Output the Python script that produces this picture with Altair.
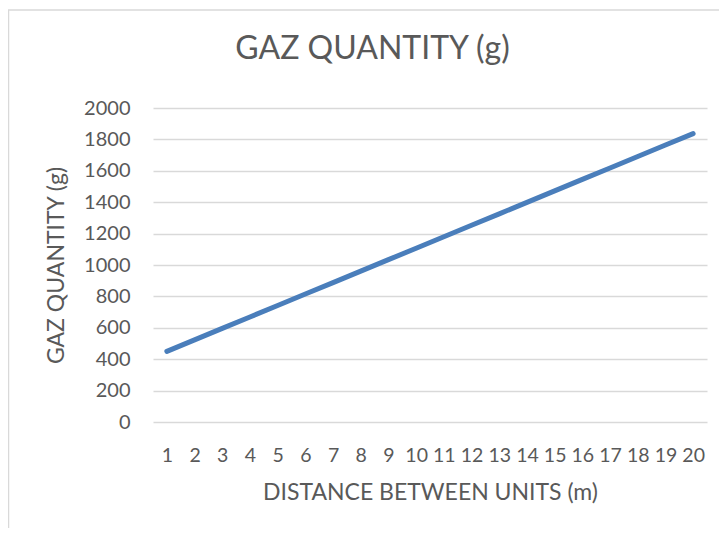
import altair as alt
import pandas as pd

distance = list(range(1, 21))
gaz = [450, 523, 596, 669, 742, 815, 888, 961, 1034, 1107,
       1180, 1253, 1326, 1399, 1472, 1545, 1618, 1691, 1764, 1837]
y_ticks = [0, 200, 400, 600, 800, 1000, 1200, 1400, 1600, 1800, 2000]
chart_title = "GAZ QUANTITY (g)"

df = pd.DataFrame({"distance": distance, "gaz": gaz})

FONT = "Lato"
TXT = "#595959"

line = alt.Chart(df).mark_line(color="#4A7EBB", strokeWidth=5, strokeCap="round").encode(
    x=alt.X("distance:O",
            scale=alt.Scale(type="point", padding=0.5),
            axis=alt.Axis(title="DISTANCE BETWEEN UNITS (m)", labelAngle=0,
                          ticks=False, domain=False, grid=False,
                          labelPadding=24, titlePadding=17,
                          labelFontSize=19.5, titleFontSize=23,
                          labelFont=FONT, titleFont=FONT,
                          labelColor=TXT, titleColor=TXT, titleFontWeight="normal")),
    y=alt.Y("gaz:Q",
            scale=alt.Scale(domain=[0, 2000], nice=False),
            axis=alt.Axis(title="GAZ QUANTITY (g)", values=y_ticks, format="d",
                          ticks=False, domain=False, grid=True,
                          gridColor="#D9D9D9", gridWidth=1.5,
                          labelPadding=23, titlePadding=15,
                          labelFontSize=20, titleFontSize=23,
                          labelFont=FONT, titleFont=FONT,
                          labelColor=TXT, titleColor=TXT, titleFontWeight="normal")),
)

border = alt.Chart(alt.Data(values=[{}])).mark_rect(
    fill="transparent", stroke="#D9D9D9", strokeWidth=1.5, clip=False
).encode(
    x=alt.value(-144.5), x2=alt.value(700),
    y=alt.value(-98), y2=alt.value(600),
)

title = alt.Chart(alt.Data(values=[{"t": chart_title}])).mark_text(
    font=FONT, fontSize=32, color=TXT, align="center", baseline="alphabetic", clip=False
).encode(
    text="t:N", x=alt.value(219.5), y=alt.value(-49),
)

chart = alt.layer(border, line, title).properties(
    width=554, height=314,
    autosize=alt.AutoSizeParams(type="none"),
    padding={"left": 145, "top": 100, "right": 12, "bottom": 106},
).configure_view(stroke=None)

chart.save("out.html", embed_options={"renderer": "svg", "actions": False})
